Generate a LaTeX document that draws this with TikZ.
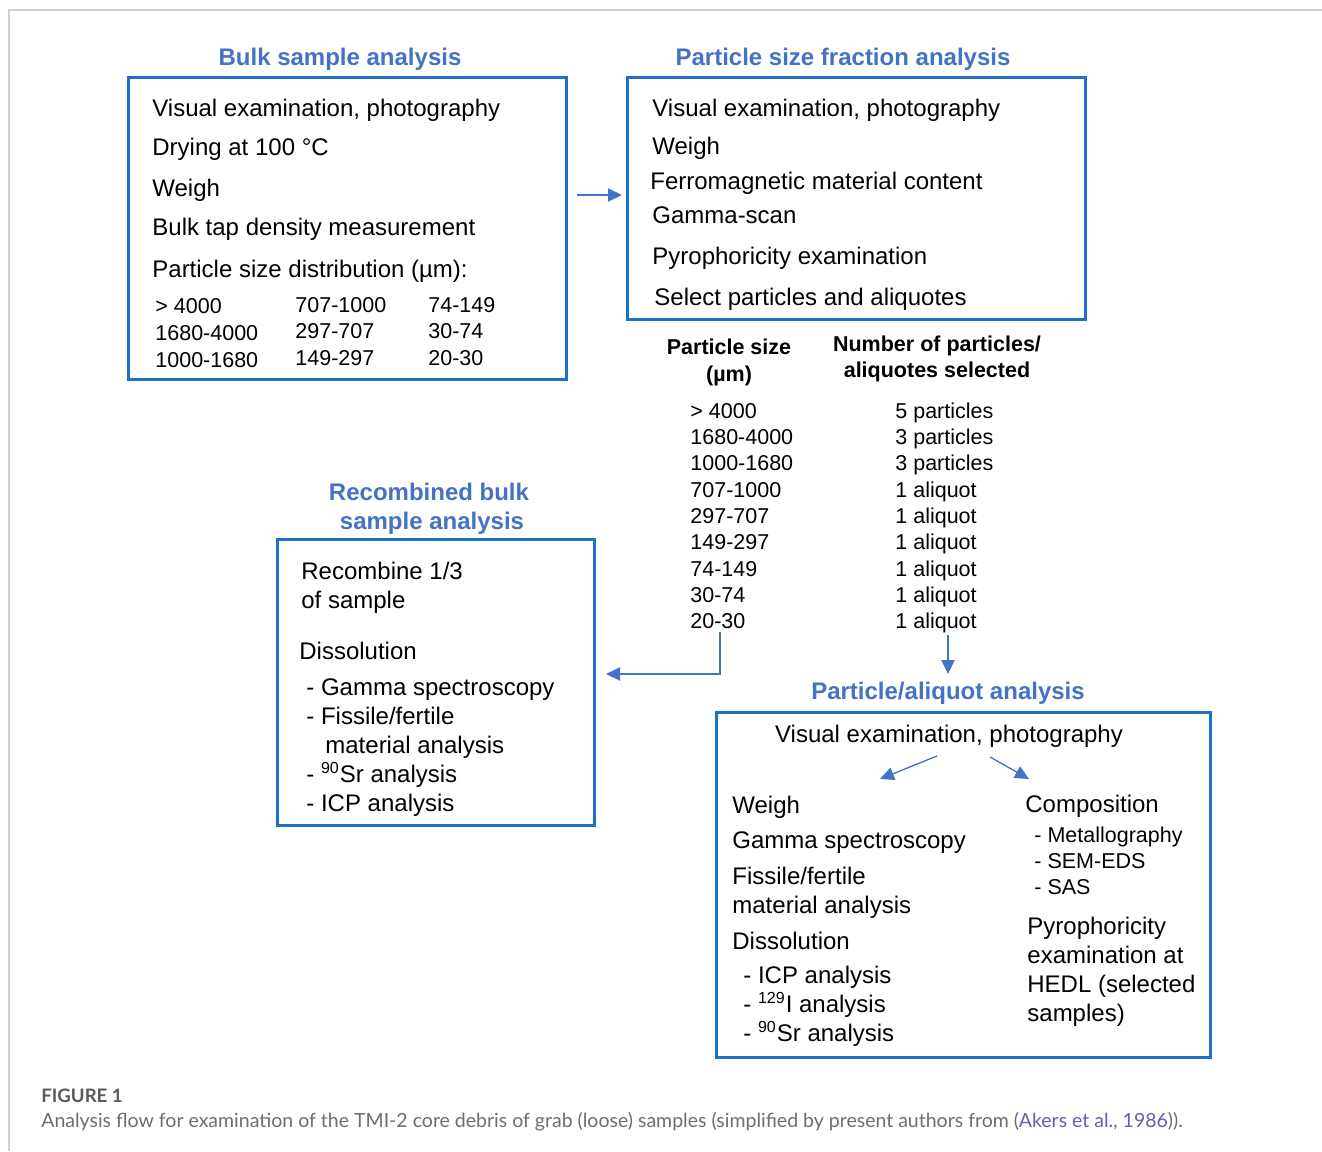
\documentclass[tikz,border=0pt]{standalone}
\usepackage{fontspec}
\setmainfont{Liberation Sans}
\newfontfamily\capfont{Lato}
\usetikzlibrary{arrows.meta}
\definecolor{boxblue}{RGB}{30,112,200}
\definecolor{ttlblue}{RGB}{68,114,196}
\definecolor{capgray}{RGB}{110,110,110}
\definecolor{capfig}{RGB}{90,90,90}
\definecolor{linkc}{RGB}{100,95,175}
\newcommand\bodyf{\fontsize{12}{14}\selectfont}
\newcommand\smf{\fontsize{10.75}{13}\selectfont}
\tikzset{
  box/.style={draw=boxblue, line width=1.5pt, inner sep=0pt, anchor=north west},
  ttl/.style={font=\bodyf\bfseries, text=ttlblue, anchor=base, inner sep=0pt},
  txt/.style={font=\bodyf, anchor=base west, inner sep=0pt},
  smt/.style={font=\smf, anchor=base west, inner sep=0pt},
  hdr/.style={font=\smf\bfseries, anchor=base, inner sep=0pt},
  arr/.style={draw=ttlblue, line width=1pt, -{Triangle[length=7pt,width=6.5pt]}},
  thinarr/.style={draw=ttlblue, line width=0.65pt, -{Triangle[length=7pt,width=6.5pt]}},
}
\begin{document}
\begin{tikzpicture}[x=0.5pt,y=-0.5pt]
\useasboundingbox[fill=white] (0,0) rectangle (1322,1151);
% frame
\draw[black!18, line width=0.8pt] (9,1151) -- (9,10) -- (1322,10);

% ---------- Bulk sample analysis
\node[ttl] (t1) at (340,65) {Bulk sample analysis};
\node[box, minimum width=219pt, minimum height=151pt] (bulk) at (127,75.5) {};
\node[txt] (b1) at (152,116) {Visual examination, photography};
\node[txt] (b2) at (152,155) {Drying at 100 °C};
\node[txt] (b3) at (152,196) {Weigh};
\node[txt] (b4) at (152,235) {Bulk tap density measurement};
\node[txt] (b5) at (152,277) {Particle size distribution (µm):};
\node[smt] (c11) at (155,313) {> 4000};
\node[smt] (c12) at (155,340) {1680-4000};
\node[smt] (c13) at (155,367) {1000-1680};
\node[smt] (c21) at (295,312) {707-1000};
\node[smt] (c22) at (295,338) {297-707};
\node[smt] (c23) at (295,365) {149-297};
\node[smt] (c31) at (428,312) {74-149};
\node[smt] (c32) at (428,338) {30-74};
\node[smt] (c33) at (428,365) {20-30};

% ---------- Particle size fraction analysis
\node[ttl] (t2) at (843,65) {Particle size fraction analysis};
\node[box, minimum width=229pt, minimum height=121pt] (psf) at (626,75.5) {};
\node[txt] (p1) at (652,116) {Visual examination, photography};
\node[txt] (p2) at (652,154) {Weigh};
\node[txt] (p3) at (650,189) {Ferromagnetic material content};
\node[txt] (p4) at (652,223) {Gamma-scan};
\node[txt] (p5) at (652,264) {Pyrophoricity examination};
\node[txt] (p6) at (654,305) {Select particles and aliquotes};

\coordinate (a1s) at (577,195);
\coordinate (a1e) at (622,195);
\draw[arr] (a1s) -- (a1e);

% ---------- table
\node[hdr] (h1) at (729,354) {Particle size};
\node[hdr] (h2) at (729,381) {(µm)};
\node[hdr] (h3) at (937,351) {Number of particles/};
\node[hdr] (h4) at (937,377) {aliquotes selected};
\foreach \s/\n/\y in {>~4000/5 particles/418, 1680-4000/3 particles/444.3, 1000-1680/3 particles/470.6, 707-1000/1 aliquot/497, 297-707/1 aliquot/523, 149-297/1 aliquot/549.5, 74-149/1 aliquot/576, 30-74/1 aliquot/602, 20-30/1 aliquot/628}{
  \node[smt] at (690,\y) {\s};
  \node[smt] at (895,\y) {\n};
}

% connectors from table
\coordinate (l1) at (720,632);
\coordinate (l2) at (720,674);
\coordinate (l3) at (606,674);
\draw[arr] (l1) -- (l2) -- (l3);
\coordinate (d1) at (948,635);
\coordinate (d2) at (948,674);
\draw[arr] (d1) -- (d2);

% ---------- Recombined bulk sample analysis
\node[ttl] (t3a) at (429,500) {Recombined bulk};
\node[ttl] (t3b) at (432,529) {sample analysis};
\node[box, minimum width=158.5pt, minimum height=143pt] (rec) at (276,537.5) {};
\node[txt] (r1) at (301,579) {Recombine 1/3};
\node[txt] (r2) at (301,608) {of sample};
\node[txt] (r3) at (299,659) {Dissolution};
\node[txt] (r4) at (306,695) {- Gamma spectroscopy};
\node[txt] (r5) at (306,724) {- Fissile/fertile};
\node[txt] (r6) at (325,753) {material analysis};
\node[txt] (r7) at (306,782) {- \textsuperscript{90}Sr analysis};
\node[txt] (r8) at (306,811) {- ICP analysis};

% ---------- Particle/aliquot analysis
\node[ttl] (t4) at (948,699) {Particle/aliquot analysis};
\node[box, minimum width=247pt, minimum height=172.5pt] (pa) at (715,710.5) {};
\node[txt, anchor=base] (q0) at (949,742) {Visual examination, photography};
\coordinate (s1) at (937,756);
\coordinate (e1) at (880,779);
\coordinate (s2) at (990,757);
\coordinate (e2) at (1029,779);
\draw[thinarr] (s1) -- (e1);
\draw[thinarr] (s2) -- (e2);
\node[txt] (q1) at (732,813) {Weigh};
\node[txt] (q2) at (732,848) {Gamma spectroscopy};
\node[txt] (q3) at (732,884) {Fissile/fertile};
\node[txt] (q4) at (732,913) {material analysis};
\node[txt] (q5) at (732,949) {Dissolution};
\node[txt] (q6) at (743,983) {- ICP analysis};
\node[txt] (q7) at (743,1012) {- \textsuperscript{129}I analysis};
\node[txt] (q8) at (743,1041) {- \textsuperscript{90}Sr analysis};
\node[txt] (w1) at (1025,812) {Composition};
\node[smt] (w2) at (1034,842) {- Metallography};
\node[smt] (w3) at (1034,868) {- SEM-EDS};
\node[smt] (w4) at (1034,894) {- SAS};
\node[txt] (w5) at (1027,934) {Pyrophoricity};
\node[txt] (w6) at (1027,963) {examination at};
\node[txt] (w7) at (1027,992) {HEDL (selected};
\node[txt] (w8) at (1027,1021) {samples)};

% ---------- caption
\node[anchor=base west, inner sep=0pt, font=\capfont\fontsize{9.3}{11}\selectfont\bfseries, text=capfig] (fig) at (41,1102) {FIGURE 1};
\node[anchor=base west, inner sep=0pt, font=\capfont\fontsize{9.75}{11}\selectfont, text=capgray] (cap) at (41,1127) {Analysis flow for examination of the TMI-2 core debris of grab (loose) samples (simplified by present authors from (\textcolor{linkc}{Akers et al., 1986})).};
\end{tikzpicture}
\end{document}
